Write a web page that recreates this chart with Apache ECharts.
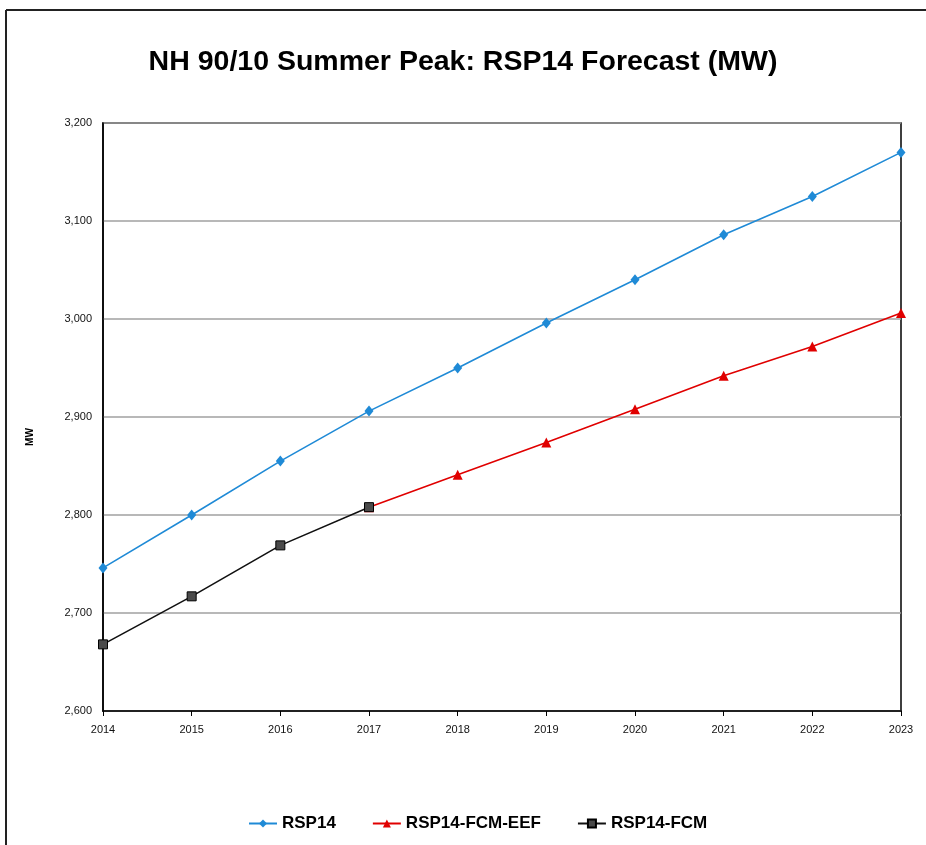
<!DOCTYPE html>
<html><head><meta charset="utf-8">
<script src="https://cdn.jsdelivr.net/npm/echarts@6/dist/echarts.min.js"></script>
<style>html,body{margin:0;padding:0;background:#fff}#c{width:926px;height:845px}</style>
</head><body><div id="c"></div>
<script>
const years = ['2014','2015','2016','2017','2018','2019','2020','2021','2022','2023'];
const rsp14 = [2746, 2800, 2855, 2906, 2950, 2996, 3040, 3086, 3125, 3170];
const rsp14FcmEef = [null, null, null, 2808, 2841, 2874, 2908, 2942, 2972, 3006];
const rsp14Fcm = [2668, 2717, 2769, 2808, null, null, null, null, null, null];
const yTicks = {min: 2600, max: 3200, interval: 100};

const chart = echarts.init(document.getElementById('c'), null, {renderer: 'canvas'});
chart.setOption({
  backgroundColor: '#fff',
  animation: false,
  title: {
    text: 'NH 90/10 Summer Peak: RSP14 Forecast (MW)',
    left: 'center', top: 43,
    textStyle: {fontFamily: 'Liberation Sans', fontWeight: 'bold', fontSize: 28.5, color: '#000'}
  },
  graphic: [
    {type: 'line', shape: {x1: 6, y1: 10, x2: 926, y2: 10}, style: {stroke: '#222', lineWidth: 2}},
    {type: 'line', shape: {x1: 6, y1: 10, x2: 6, y2: 845}, style: {stroke: '#222', lineWidth: 2}},
    {type: 'text', x: 30, y: 437, rotation: Math.PI / 2,
      style: {text: 'MW', fontFamily: 'Liberation Sans', fontWeight: 'bold', fontSize: 10, fill: '#000',
        align: 'center', verticalAlign: 'middle'}}
  ],
  legend: {
    left: 243, top: 810,
    itemWidth: 28, itemHeight: 10, itemGap: 36,
    textStyle: {fontFamily: 'Liberation Sans', fontWeight: 'bold', fontSize: 17, color: '#000'},
    data: ['RSP14', 'RSP14-FCM-EEF', 'RSP14-FCM']
  },
  grid: {left: 103, right: 25, top: 123, bottom: 134, show: true, borderColor: '#000', borderWidth: 1.5},
  xAxis: {
    type: 'category', data: years, boundaryGap: false,
    axisLine: {lineStyle: {color: '#000', width: 1.5}},
    axisTick: {show: true, length: 5, alignWithLabel: true, lineStyle: {color: '#000'}},
    axisLabel: {fontFamily: 'Liberation Sans', fontSize: 11, color: '#111', margin: 13},
    splitLine: {show: false}
  },
  yAxis: {
    type: 'value', min: yTicks.min, max: yTicks.max, interval: yTicks.interval,
    axisLine: {show: true, lineStyle: {color: '#000', width: 1.5}},
    axisTick: {show: false},
    axisLabel: {fontFamily: 'Liberation Sans', fontSize: 11, color: '#111', margin: 11,
      formatter: v => v.toLocaleString('en-US')},
    splitLine: {lineStyle: {color: '#a0a0a0', width: 1.5}}
  },
  series: [
    {name: 'RSP14', type: 'line', data: rsp14, symbol: 'diamond', symbolSize: [9, 11],
      lineStyle: {color: '#1f8ad6', width: 1.6}, itemStyle: {color: '#1f8ad6'}},
    {name: 'RSP14-FCM-EEF', type: 'line', data: rsp14FcmEef, symbol: 'triangle', symbolSize: 10,
      lineStyle: {color: '#e00000', width: 1.6}, itemStyle: {color: '#e00000'}},
    {name: 'RSP14-FCM', type: 'line', data: rsp14Fcm, symbol: 'rect', symbolSize: 9,
      lineStyle: {color: '#111', width: 1.6}, itemStyle: {color: '#4a4a4a', borderColor: '#000', borderWidth: 1}}
  ]
});
</script></body></html>
